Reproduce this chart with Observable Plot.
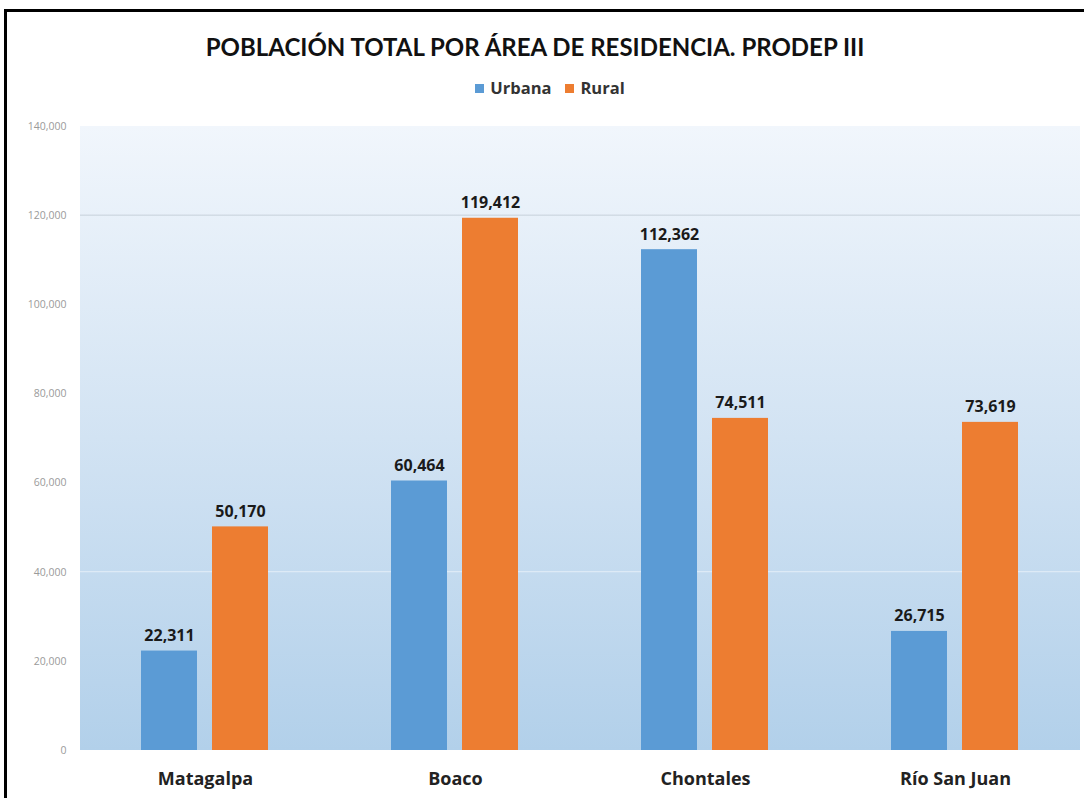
<!DOCTYPE html>
<html><head><meta charset="utf-8">
<script src="https://cdn.jsdelivr.net/npm/d3@7"></script>
<script src="https://cdn.jsdelivr.net/npm/@observablehq/plot@0.6"></script>
<style>
body{margin:0;background:#fff;width:1084px;height:798px;overflow:hidden;position:relative;font-family:"Open Sans",sans-serif}
#frame{position:absolute;left:4px;top:9px;width:1100px;height:820px;border:3px solid #000;box-sizing:border-box}
#title{position:absolute;left:0;width:1070px;top:32px;text-align:center;font-family:Lato,sans-serif;font-weight:700;font-size:24px;color:#111;white-space:nowrap}
#legend{position:absolute;left:0;width:1100px;top:76px;text-align:center;font-weight:700;font-size:16.5px;color:#333;white-space:nowrap}
#legend .sw{display:inline-block;width:9px;height:9px;margin-right:6px;vertical-align:1px}
#legend .it{margin:0 7px}
#chart{position:absolute;left:0;top:110px}
</style></head>
<body>
<div id="frame"></div>
<div id="title">POBLACIÓN TOTAL POR ÁREA DE RESIDENCIA. PRODEP III</div>
<div id="legend"></div>
<div id="chart"></div>
<script>
const categories = ["Matagalpa", "Boaco", "Chontales", "Río San Juan"];
const series = ["Urbana", "Rural"];
const urbana = [22311, 60464, 112362, 26715];
const rural = [50170, 119412, 74511, 73619];
const yTicks = [0, 20000, 40000, 60000, 80000, 100000, 120000, 140000];
const gridValues = [40000, 120000];
const colors = ["#5b9bd5", "#ed7d31"];

const data = categories.flatMap((c, i) => [
  {cat: c, serie: series[0], value: urbana[i]},
  {cat: c, serie: series[1], value: rural[i]}
]);

// legend
const leg = document.getElementById("legend");
series.forEach((s, i) => {
  const it = document.createElement("span");
  it.className = "it";
  it.innerHTML = `<span class="sw" style="background:${colors[i]}"></span>${s}`;
  leg.appendChild(it);
});

const W = 1084, H = 688, ML = 80, MR = 4, MT = 16, MB = 48;
const fmt = d3.format(",");
const plot = Plot.plot({
  width: W, height: H,
  marginLeft: ML, marginRight: MR, marginTop: MT, marginBottom: MB,
  style: {background: "transparent", fontFamily: "'Open Sans', sans-serif", overflow: "visible"},
  fx: {domain: categories, paddingInner: 0.49, paddingOuter: 0.245, label: null},
  x: {domain: series, paddingInner: 0.21, paddingOuter: 0, axis: null},
  y: {domain: [0, 140000], label: null},
  color: {domain: series, range: colors},
  marks: [
    Plot.axisY({ticks: yTicks, tickFormat: fmt, tickSize: 0, tickPadding: 75, fontSize: 10.5, fill: "#9a9a9a", label: null}),
    Plot.axisFx({anchor: "bottom", tickSize: 0, tickPadding: 22, fontSize: 18, fontWeight: "bold", fill: "#222", label: null}),
    Plot.barY(data, {fx: "cat", x: "serie", y: "value", fill: "serie"}),
    Plot.text(data, {fx: "cat", x: "serie", y: "value", text: d => fmt(d.value), lineAnchor: "bottom", dy: -10, fontSize: 16, fontWeight: "bold", fill: "#1a1a1a"})
  ]
});
const svg = d3.select(plot);
svg.insert("defs", ":first-child").html(
  `<linearGradient id="bgGrad" x1="0" y1="0" x2="0" y2="1">
     <stop offset="0" stop-color="#f1f6fc"/>
     <stop offset="0.5" stop-color="#d2e3f3"/>
     <stop offset="1" stop-color="#b2d0ea"/>
   </linearGradient>`);
// plot-area background and grid lines, positioned with Plot's own y scale
const yScale = plot.scale("y");
const g = d3.create("svg:g").attr("aria-label", "background");
g.append("rect")
  .attr("x", ML).attr("width", W - ML - MR)
  .attr("y", yScale.apply(140000)).attr("height", yScale.apply(0) - yScale.apply(140000))
  .attr("fill", "url(#bgGrad)");
g.selectAll("line").data(gridValues).join("line")
  .attr("x1", ML).attr("x2", W - MR)
  .attr("y1", d => yScale.apply(d)).attr("y2", d => yScale.apply(d))
  .attr("stroke", d => d === 120000 ? "#c6d0da" : "#e4eef8").attr("stroke-width", 1);
const defs = plot.querySelector("defs");
defs.after(g.node());
document.getElementById("chart").appendChild(plot);
</script>
</body></html>
